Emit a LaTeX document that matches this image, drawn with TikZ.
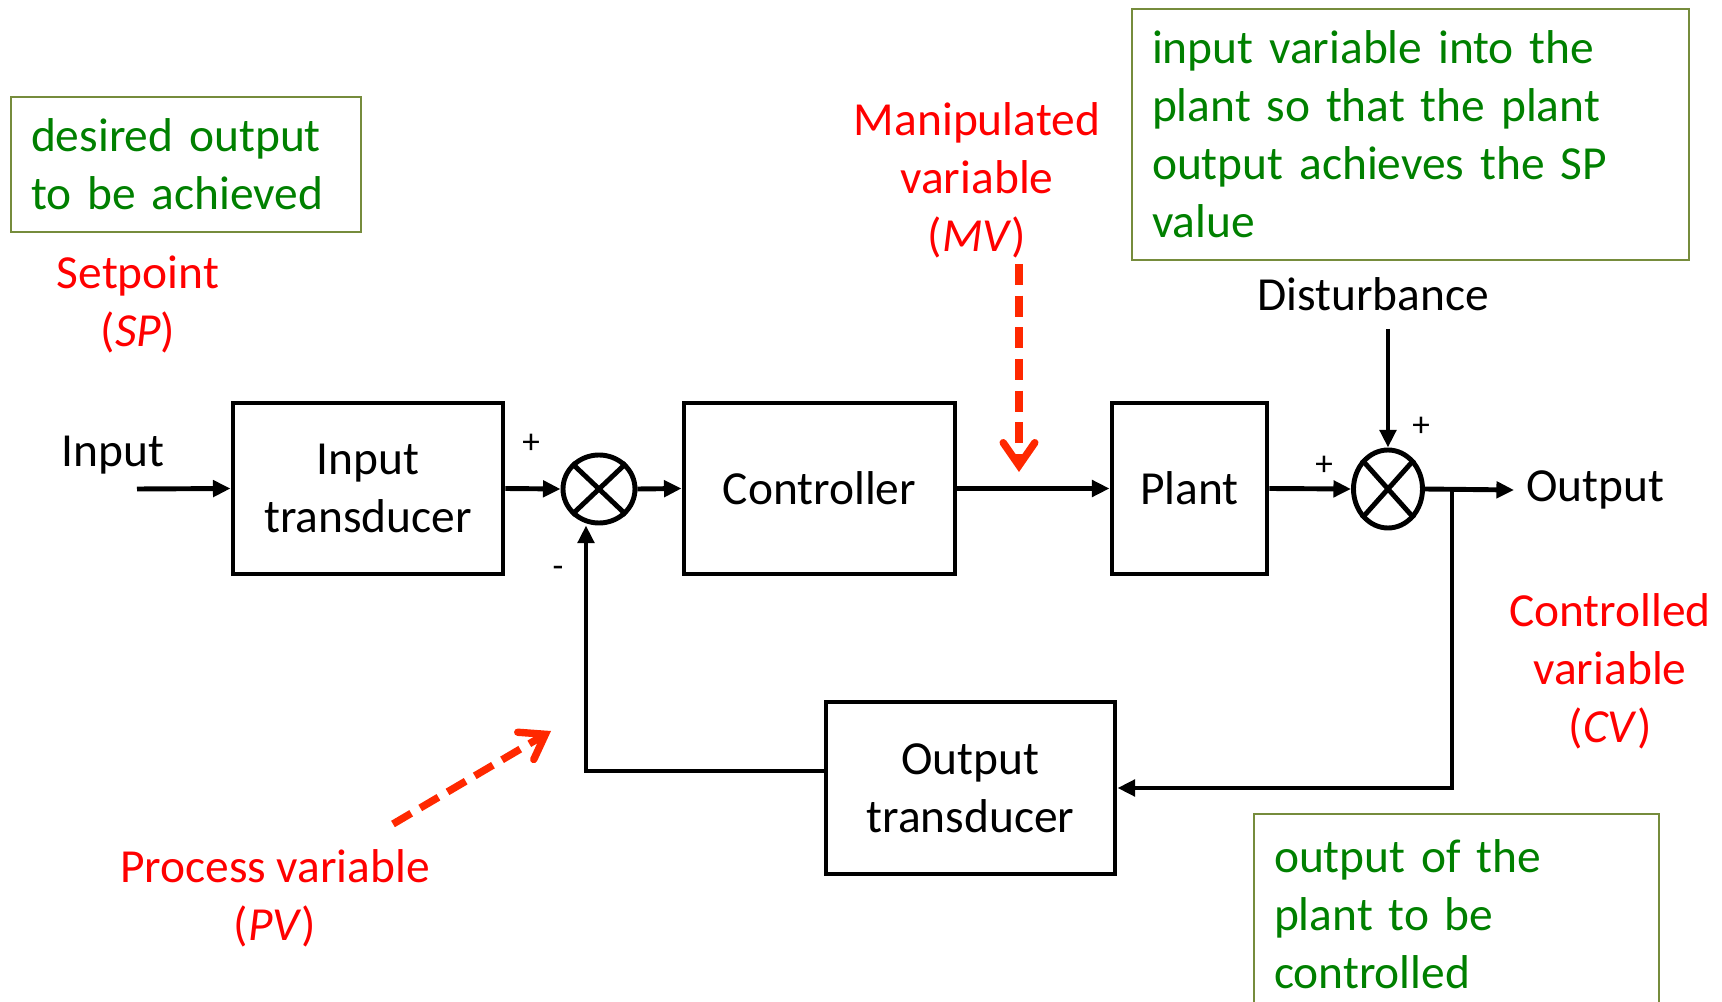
\documentclass[tikz,border=0pt]{standalone}
\usepackage{fontspec}
\setmainfont{Carlito}
\usetikzlibrary{positioning,calc,arrows.meta,shapes.geometric}

\definecolor{textgreen}{RGB}{0,128,0}
\definecolor{notegreen}{RGB}{118,140,60}
\definecolor{ptrred}{RGB}{255,40,0}

\tikzset{
  block/.style={draw,line width=1.4pt,minimum height=1.71cm,align=center,font=\fontsize{13.5}{16.5}\selectfont},
  sumnode/.style={draw,ellipse,line width=1.4pt,inner sep=0pt},
  sig/.style={line width=1.4pt,-{Triangle[length=5pt,width=4.6pt]}},
  note/.style={draw=notegreen,line width=0.6pt,text=textgreen,align=left,anchor=north west,inner xsep=0.2cm,font=\fontsize{13.5}{16.5}\selectfont},
  redlbl/.style={text=red,align=center,font=\fontsize{13.5}{16.5}\selectfont},
  sgn/.style={font=\fontsize{10}{11}\selectfont},
  pointer/.style={draw=ptrred,line width=2.1pt,dash pattern=on 6pt off 3pt,-{Straight Barb[length=6.5pt,width=9pt,line cap=round]}},
}

\begin{document}
\begin{tikzpicture}[font=\fontsize{13.5}{16.5}\selectfont]
	\clip (0,0) rectangle (17.22,-10.02);
	
	% blocks
	\node[block,minimum width=2.70cm] (intr) at (3.68,-4.885) {Input\\transducer};
	\node[sumnode,minimum width=0.72cm,minimum height=0.68cm] (sum1) at (5.99,-4.89) {};
	\node[block,minimum width=2.71cm] (ctrl) at (8.195,-4.885) {Controller};
	\node[block,minimum width=1.55cm] (plant) at (11.895,-4.885) {Plant};
	\node[sumnode,minimum width=0.69cm,minimum height=0.78cm] (sum2) at (13.88,-4.89) {};
	\node[block,minimum width=2.89cm,minimum height=1.72cm] (outtr) at (9.705,-7.88) {Output\\transducer};
	\draw[line width=1.4pt] (sum1.north west) -- (sum1.south east) (sum1.north east) -- (sum1.south west);
	\draw[line width=1.4pt] (sum2.north west) -- (sum2.south east) (sum2.north east) -- (sum2.south west);
	
	% signals
	\node (inlbl) at (1.13,-4.55) {Input};
	\node (dist) at (13.73,-2.94) {Disturbance};
	\node[anchor=west] (outlbl) at (15.14,-4.90) {Output};
	\coordinate (instart) at (1.37,-4.89);
	\coordinate (dstart) at (13.88,-3.29);
	\coordinate (br) at (14.52,-4.89);
	
	\draw[sig] (instart) -- (intr.west);
	\draw[sig] (intr.east) -- (sum1.west);
	\draw[sig] (sum1.east) -- (ctrl.west);
	\draw[sig] (ctrl.east) -- (plant.west);
	\draw[sig] (plant.east) -- (sum2.west);
	\draw[sig] (dstart) -- (sum2.north);
	\draw[sig] (sum2.east) -- (outlbl.west);
	\draw[sig] (br) |- (outtr.east);
	\draw[sig] ([yshift=0.17cm]outtr.west) -| ([xshift=-1.3mm]sum1.south);
	
	\node[sgn] (p1) at (5.31,-4.44) {+};
	\node[sgn] (m1) at (5.58,-5.72) {-};
	\node[sgn] (p2) at (13.24,-4.66) {+};
	\node[sgn] (p3) at (14.21,-4.27) {+};
	
	% notes
	\node[note,text width=3.10cm,minimum height=1.35cm] (spnote) at (0.10,-0.96) {desired output\\to be achieved};
	\node[note,text width=5.17cm,minimum height=2.51cm] (mvnote) at (11.31,-0.08) {input variable into the\\plant so that the plant\\output achieves the SP\\value};
	\node[note,text width=3.65cm,minimum height=2.0cm] (cvnote) at (12.53,-8.13) {output of the\\plant to be\\controlled};
	
	% variable names
	\node[redlbl] (sp) at (1.38,-3.04) {Setpoint\\(\textit{SP})};
	\node[redlbl] (mv) at (9.77,-1.80) {Manipulated\\variable\\(\textit{MV})};
	\node[redlbl] (cv) at (16.10,-6.71) {Controlled\\variable\\(\textit{CV})};
	\node[redlbl] (pv) at (2.75,-8.98) {Process variable\\(\textit{PV})};
	
	\coordinate (mvtop) at (10.19,-2.64);
	\coordinate (mvtip) at (10.19,-4.72);
	\coordinate (pvtail) at (3.93,-8.24);
	\coordinate (pvtip) at (5.51,-7.31);
	\draw[pointer] (mvtop) -- (mvtip);
	\draw[pointer] (pvtail) -- (pvtip);
\end{tikzpicture}
\end{document}
